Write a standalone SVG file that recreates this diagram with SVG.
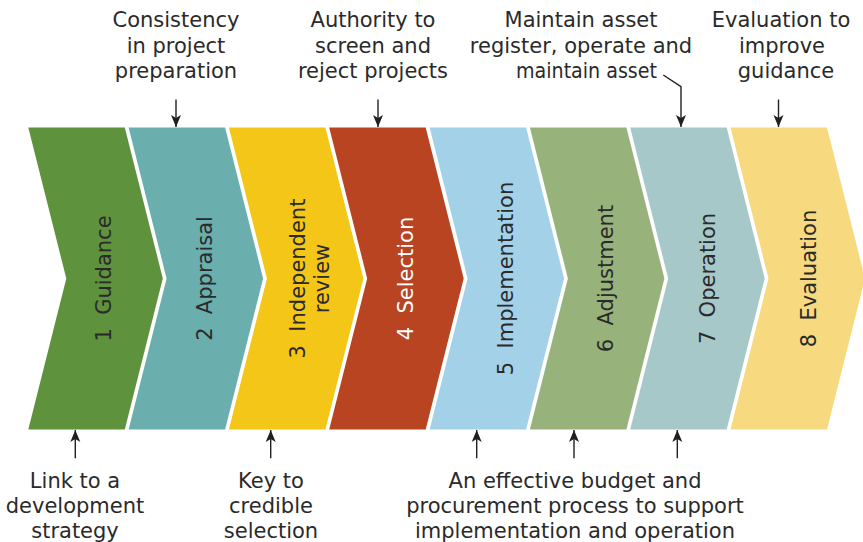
<svg xmlns="http://www.w3.org/2000/svg" width="863" height="542" viewBox="0 0 863 542">
<defs>
<style>
.lbl{font-family:"DejaVu Sans","Liberation Sans",sans-serif;font-size:21px;fill:#2a2a2a;text-anchor:middle}
.stage{font-family:"DejaVu Sans","Liberation Sans",sans-serif;font-size:21px;fill:#2a2a2a;text-anchor:middle}
.white{fill:#ffffff}
.conn{fill:none;stroke:#231f20;stroke-width:1.4}
</style>
<marker id="ah" viewBox="-13 -6 14 12" refX="0" refY="0" markerWidth="14" markerHeight="12" markerUnits="userSpaceOnUse" orient="auto">
<path d="M0,0 L-12,-5 L-9,0 L-12,5 Z" fill="#231f20"/>
</marker>
<path id="chev" d="M0,127.5 L96.5,127.5 L134.5,278.5 L96.5,429.5 L0,429.5 L38,278.5 Z"/>
</defs>
<rect width="863" height="542" fill="#ffffff"/>

<g id="stage1"><use href="#chev" x="28.3" fill="#5e923c"/>
<text class="stage" transform="translate(110.5,278.5) rotate(-90)">1&#160;&#160;Guidance</text></g>
<g id="stage2"><use href="#chev" x="128.6" fill="#6aaead"/>
<text class="stage" transform="translate(211.5,278.5) rotate(-90)">2&#160;&#160;Appraisal</text></g>
<g id="stage3"><use href="#chev" x="228.9" fill="#f3c617"/>
<text class="stage" transform="translate(305,278.5) rotate(-90)">3&#160;&#160;Independent</text>
<text class="stage" transform="translate(329.3,278.5) rotate(-90)">review</text></g>
<g id="stage4"><use href="#chev" x="329.2" fill="#b94422"/>
<text class="stage white" transform="translate(412.7,278.5) rotate(-90)">4&#160;&#160;Selection</text></g>
<g id="stage5"><use href="#chev" x="429.6" fill="#a3d2e8"/>
<text class="stage" transform="translate(513.3,278.5) rotate(-90)">5&#160;&#160;Implementation</text></g>
<g id="stage6"><use href="#chev" x="529.9" fill="#97b37b"/>
<text class="stage" transform="translate(613.3,278.5) rotate(-90)">6&#160;&#160;Adjustment</text></g>
<g id="stage7"><use href="#chev" x="630.2" fill="#a6c8c9"/>
<text class="stage" transform="translate(714.5,278.5) rotate(-90)">7&#160;&#160;Operation</text></g>
<g id="stage8"><use href="#chev" x="730.5" fill="#f7da7f"/>
<text class="stage" transform="translate(816,278.5) rotate(-90)">8&#160;&#160;Evaluation</text></g>

<g id="note-consistency"><text class="lbl"><tspan x="176" y="27.3">Consistency</tspan><tspan x="176" y="52.6">in project</tspan><tspan x="176" y="78">preparation</tspan></text></g>
<g id="note-authority"><text class="lbl"><tspan x="373" y="27.3">Authority to</tspan><tspan x="373" y="52.6">screen and</tspan><tspan x="373" y="78">reject projects</tspan></text></g>
<g id="note-maintain"><text class="lbl"><tspan x="581" y="27.3">Maintain asset</tspan><tspan x="581" y="52.6">register, operate and</tspan></text>
<text class="lbl" x="586.5" y="78" textLength="141" lengthAdjust="spacingAndGlyphs">maintain asset</text></g>
<g id="note-evaluation"><text class="lbl"><tspan x="781" y="27.3">Evaluation to</tspan><tspan x="782" y="52.6">improve</tspan><tspan x="786" y="78">guidance</tspan></text></g>
<g id="note-link"><text class="lbl"><tspan x="75" y="488.3">Link to a</tspan><tspan x="75" y="513.3">development</tspan><tspan x="75" y="538.3">strategy</tspan></text></g>
<g id="note-key"><text class="lbl"><tspan x="271" y="488.3">Key to</tspan><tspan x="271" y="513.3">credible</tspan><tspan x="271" y="538.3">selection</tspan></text></g>
<g id="note-budget"><text class="lbl"><tspan x="575" y="488.3">An effective budget and</tspan><tspan x="575" y="513.3">procurement process to support</tspan><tspan x="575" y="538.3">implementation and operation</tspan></text></g>

<g id="connectors">
<path class="conn" d="M176,99.5 V127" marker-end="url(#ah)"/>
<path class="conn" d="M378,99.5 V127" marker-end="url(#ah)"/>
<path class="conn" d="M663.3,75 L681,86.7 V127" marker-end="url(#ah)"/>
<path class="conn" d="M778.5,99.5 V127" marker-end="url(#ah)"/>
<path class="conn" d="M75.3,458.3 V430" marker-end="url(#ah)"/>
<path class="conn" d="M270.7,458.3 V430" marker-end="url(#ah)"/>
<path class="conn" d="M476.7,458.3 V430" marker-end="url(#ah)"/>
<path class="conn" d="M574,458.3 V430" marker-end="url(#ah)"/>
<path class="conn" d="M677.3,458.3 V430" marker-end="url(#ah)"/>
</g>
</svg>
